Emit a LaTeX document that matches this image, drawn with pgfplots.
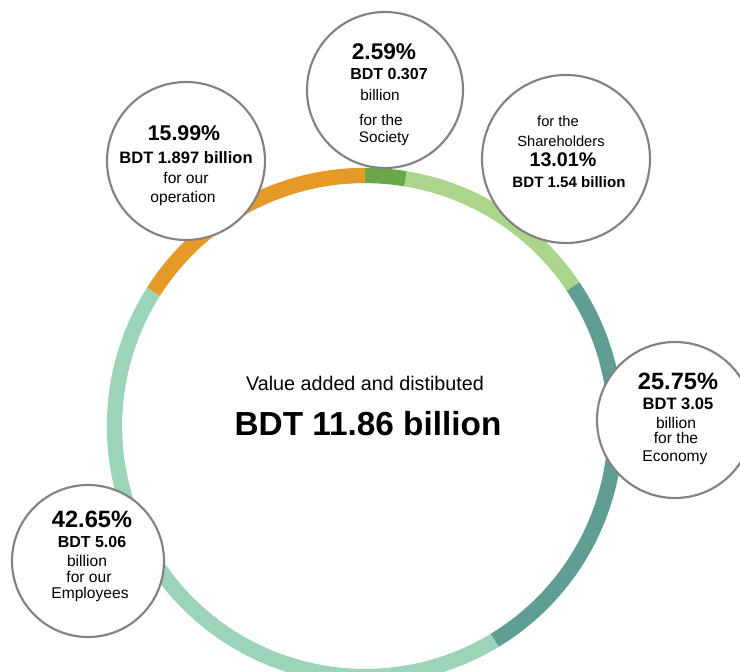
\documentclass[border=0pt]{standalone}
\usepackage{pgfplots}
\pgfplotsset{compat=1.18}
\usepackage{fontspec}
\setmainfont{Liberation Sans}

\definecolor{cOrange}{RGB}{229,154,40}
\definecolor{cDark}{RGB}{104,168,74}
\definecolor{cLight}{RGB}{170,213,138}
\definecolor{cTeal}{RGB}{96,158,145}
\definecolor{cMint}{RGB}{155,212,185}
\definecolor{cRim}{RGB}{130,130,130}
\definecolor{cText}{RGB}{20,20,20}

% ring: centre (365,246) in px, 1px = 0.75pt
\newcommand{\ringR}{187.9pt}
% #1 start (percent), #2 share (percent), #3 colour
\newcommand{\segment}[3]{%
  \draw[line width=11.5pt,#3] (axis cs:365,246) ++({90-3.6*#1}:\ringR)
    arc[start angle={90-3.6*#1},end angle={90-3.6*(#1+#2)},radius=\ringR];}
\newcommand{\bubble}[3]{%
  \draw[cRim,line width=1.6pt,fill=white] (axis cs:#1,#2) circle[radius=#3pt];}
\newcommand{\fs}[1]{\fontsize{#1pt}{#1pt}\selectfont}

\begin{document}
\begin{tikzpicture}
\clip (0,0) rectangle (555pt,504pt);
\begin{axis}[
  x=0.75pt,y=0.75pt,
  xmin=0,xmax=740,ymin=0,ymax=672,
  hide axis,clip=false,
  every node/.append style={text=cText,inner sep=0pt,text height=0.72em,text depth=0pt,anchor=center},
]
\path (axis cs:0,0) rectangle (axis cs:740,672);

% segments, clockwise from the top
\segment{0}{2.59}{cDark}
\segment{2.59}{13.01}{cLight}
\segment{15.60}{25.75}{cTeal}
\segment{41.35}{42.65}{cMint}
\segment{84.00}{16.00}{cOrange}

% centre text
\node[font=\fs{14.8}] at (axis cs:365,289) {Value added and distibuted};
\node[font=\fs{25}\bfseries] at (axis cs:368,248) {BDT 11.86 billion};

% operation
\bubble{186}{511}{59.25}
\node[font=\fs{16}\bfseries] at (axis cs:184,539) {15.99\%};
\node[font=\fs{12.4}\bfseries] at (axis cs:186,514) {BDT 1.897 billion};
\node[font=\fs{11.7}] at (axis cs:186,494) {for our};
\node[font=\fs{11.7}] at (axis cs:183,474) {operation};

% society
\bubble{385}{582}{58.5}
\node[font=\fs{17}\bfseries] at (axis cs:384,620) {2.59\%};
\node[font=\fs{12}\bfseries] at (axis cs:389,598) {BDT 0.307};
\node[font=\fs{11.5}] at (axis cs:380,577) {billion};
\node[font=\fs{11.5}] at (axis cs:381,552) {for the};
\node[font=\fs{11.5}] at (axis cs:384,533) {Society};

% shareholders
\bubble{566}{513}{63}
\node[font=\fs{11}] at (axis cs:558,551) {for the};
\node[font=\fs{11}] at (axis cs:561,531) {Shareholders};
\node[font=\fs{14.8}\bfseries] at (axis cs:563,512) {13.01\%};
\node[font=\fs{11.3}\bfseries] at (axis cs:569,490) {BDT 1.54 billion};

% economy
\bubble{675}{252}{58.5}
\node[font=\fs{17.7}\bfseries] at (axis cs:678,291) {25.75\%};
\node[font=\fs{12.4}\bfseries] at (axis cs:678,268) {BDT 3.05};
\node[font=\fs{11.7}] at (axis cs:676,249) {billion};
\node[font=\fs{11.7}] at (axis cs:676,234) {for the};
\node[font=\fs{11.7}] at (axis cs:675,214) {Economy};

% employees
\bubble{88}{111}{57}
\node[font=\fs{17.7}\bfseries] at (axis cs:92,153) {42.65\%};
\node[font=\fs{12}\bfseries] at (axis cs:92,130) {BDT 5.06};
\node[font=\fs{11.7}] at (axis cs:87,111) {billion};
\node[font=\fs{11.7}] at (axis cs:89,95) {for our};
\node[font=\fs{11.7}] at (axis cs:90,78) {Employees};
\end{axis}
\end{tikzpicture}
\end{document}
